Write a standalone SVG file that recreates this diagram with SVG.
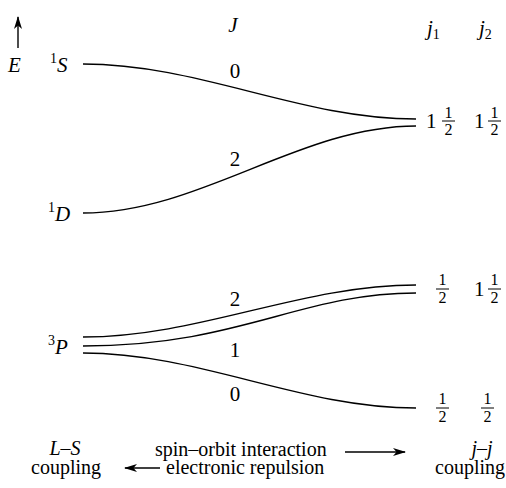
<svg xmlns="http://www.w3.org/2000/svg" width="506" height="488" viewBox="0 0 506 488" font-family="'Liberation Serif', 'Times New Roman', serif">
<style>
text{font-size:21px;fill:#000}
.i{font-style:italic}
.sup{font-size:14px;font-style:normal}
.fr{font-size:16px;text-anchor:middle}
.m{text-anchor:middle}
.b{font-size:20px}
.ln{fill:none;stroke:#000;stroke-width:1.4}
.bar{stroke:#000;stroke-width:1}
</style>
<defs>
<marker id="ah" viewBox="0 0 13 8" refX="12" refY="4" markerWidth="13" markerHeight="8" markerUnits="userSpaceOnUse" orient="auto">
<path d="M0,0 L13,4 L0,8 L3.5,4 Z" fill="#000"/>
</marker>
</defs>
<g id="connectors">
<line class="ln" x1="18" y1="48" x2="18" y2="17" marker-end="url(#ah)"/>
<path class="ln" d="M83,64 C200,64 300,119 416,119"/>
<path class="ln" d="M83,213 C200,213 300,126 416,126"/>
<path class="ln" d="M83,337 C200,337 300,285 416,285"/>
<path class="ln" d="M83,346 C240,346 300,293 416,293"/>
<path class="ln" d="M83,353 C200,353 300,408 416,408"/>
<line class="ln" x1="345" y1="452" x2="405" y2="452" marker-end="url(#ah)"/>
<line class="ln" x1="160" y1="468" x2="125" y2="468" marker-end="url(#ah)"/>
</g>
<g id="axis"><text class="i" x="8" y="72">E</text></g>
<g id="header-J"><text class="i m" x="233" y="32">J</text></g>
<g id="header-j"><text class="i" x="427" y="35">j<tspan class="sup" dy="4">1</tspan></text><text class="i" x="479" y="35">j<tspan class="sup" dy="4">2</tspan></text></g>
<g id="node-1S"><text class="sup" x="50" y="63">1</text><text class="i" x="57" y="72">S</text></g>
<g id="node-1D"><text class="sup" x="48" y="212">1</text><text class="i" x="55" y="221">D</text></g>
<g id="node-3P"><text class="sup" x="48" y="345">3</text><text class="i" x="55" y="354">P</text></g>
<g id="labels-J">
<text class="m" x="235" y="78">0</text>
<text class="m" x="235" y="166">2</text>
<text class="m" x="235" y="306">2</text>
<text class="m" x="235" y="357">1</text>
<text class="m" x="235" y="401">0</text>
</g>
<g id="jj-top">
<text x="426" y="128">1</text>
<text class="fr" x="448.5" y="118">1</text><line class="bar" x1="442" y1="121" x2="455" y2="121"/><text class="fr" x="448.5" y="135">2</text>
<text x="474" y="128">1</text>
<text class="fr" x="494.5" y="118">1</text><line class="bar" x1="488" y1="121" x2="501" y2="121"/><text class="fr" x="494.5" y="135">2</text>
</g>
<g id="jj-mid">
<text class="fr" x="442.5" y="285">1</text><line class="bar" x1="436" y1="289" x2="449" y2="289"/><text class="fr" x="442.5" y="303">2</text>
<text x="474" y="296">1</text>
<text class="fr" x="494.5" y="285">1</text><line class="bar" x1="488" y1="289" x2="501" y2="289"/><text class="fr" x="494.5" y="303">2</text>
</g>
<g id="jj-bot">
<text class="fr" x="442.5" y="404">1</text><line class="bar" x1="436" y1="408" x2="449" y2="408"/><text class="fr" x="442.5" y="422">2</text>
<text class="fr" x="487.5" y="404">1</text><line class="bar" x1="481" y1="408" x2="494" y2="408"/><text class="fr" x="487.5" y="422">2</text>
</g>
<g id="bottom">
<text class="b i m" x="65" y="455">L–S</text>
<text class="b m" x="66" y="474">coupling</text>
<text class="b" x="155" y="456">spin–orbit interaction</text>
<text class="b" x="166" y="474">electronic repulsion</text>
<text class="b i m" x="482" y="455">j–j</text>
<text class="b" x="505" y="474" text-anchor="end">coupling</text>
</g>
</svg>
